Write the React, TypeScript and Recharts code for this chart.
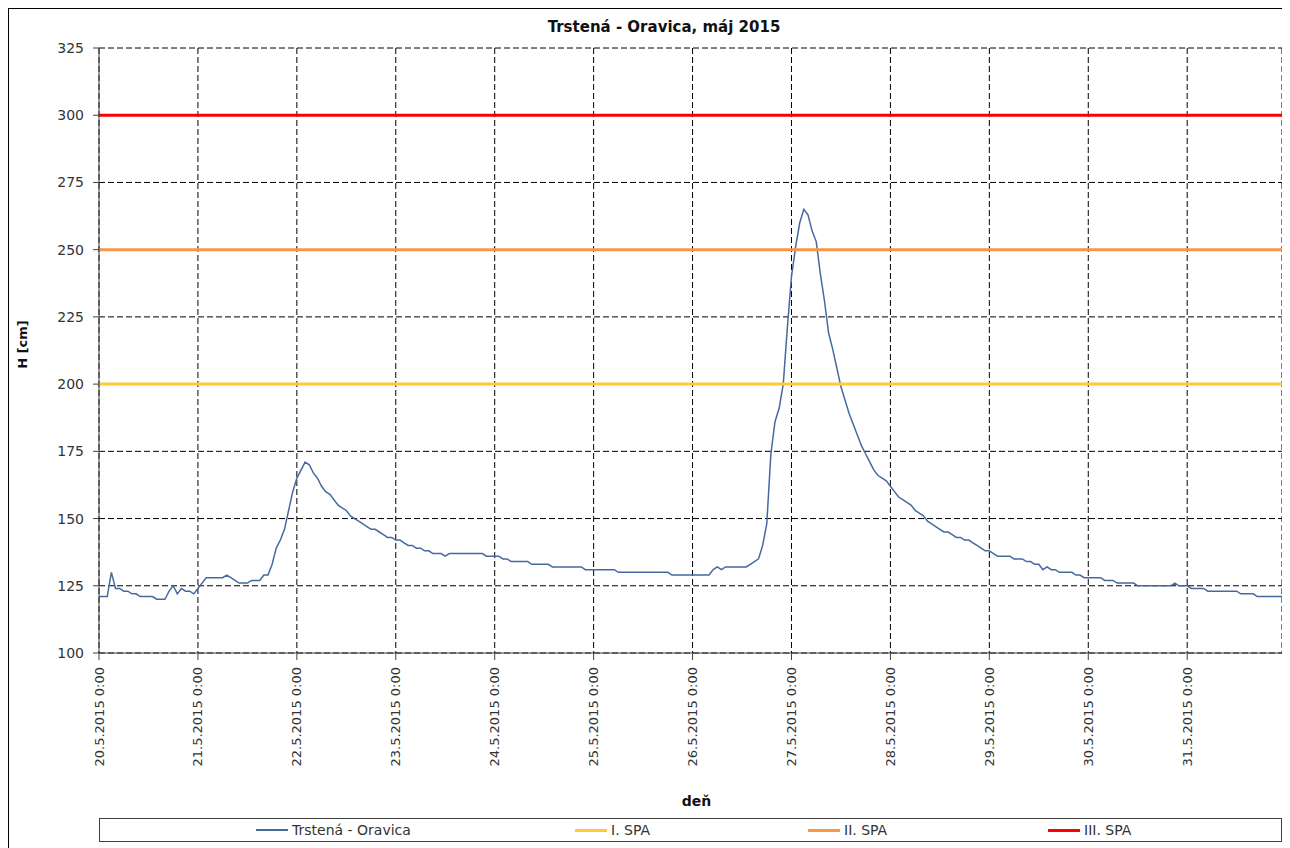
import { LineChart, Line, XAxis, YAxis, CartesianGrid, Legend } from "recharts";

// hourly water level H [cm], one array per day (0:00 .. 23:00)
const d20 = [121, 121, 121, 130, 124, 124, 123, 123, 122, 122, 121, 121, 121, 121, 120, 120, 120, 123, 125, 122, 124, 123, 123, 122];
const d21 = [124, 126, 128, 128, 128, 128, 128, 129, 128, 127, 126, 126, 126, 127, 127, 127, 129, 129, 133, 139, 142, 146, 153, 160];
const d22 = [165, 168, 171, 170, 167, 165, 162, 160, 159, 157, 155, 154, 153, 151, 150, 149, 148, 147, 146, 146, 145, 144, 143, 143];
const d23 = [142, 142, 141, 140, 140, 139, 139, 138, 138, 137, 137, 137, 136, 137, 137, 137, 137, 137, 137, 137, 137, 137, 136, 136];
const d24 = [136, 136, 135, 135, 134, 134, 134, 134, 134, 133, 133, 133, 133, 133, 132, 132, 132, 132, 132, 132, 132, 132, 131, 131];
const d25 = [131, 131, 131, 131, 131, 131, 130, 130, 130, 130, 130, 130, 130, 130, 130, 130, 130, 130, 130, 129, 129, 129, 129, 129];
const d26 = [129, 129, 129, 129, 129, 131, 132, 131, 132, 132, 132, 132, 132, 132, 133, 134, 135, 140, 148, 174, 186, 191, 200, 221];
const d27 = [240, 251, 260, 265, 263, 257, 253, 241, 231, 219, 213, 206, 199, 194, 189, 185, 181, 177, 174, 171, 168, 166, 165, 164];
const d28 = [162, 160, 158, 157, 156, 155, 153, 152, 151, 149, 148, 147, 146, 145, 145, 144, 143, 143, 142, 142, 141, 140, 139, 138];
const d29 = [138, 137, 136, 136, 136, 136, 135, 135, 135, 134, 134, 133, 133, 131, 132, 131, 131, 130, 130, 130, 130, 129, 129, 128];
const d30 = [128, 128, 128, 128, 127, 127, 127, 126, 126, 126, 126, 126, 125, 125, 125, 125, 125, 125, 125, 125, 125, 126, 125, 125];
const d31 = [125, 124, 124, 124, 124, 123, 123, 123, 123, 123, 123, 123, 123, 122, 122, 122, 122, 121, 121, 121, 121, 121, 121, 121];

const dayLabels = [
  "20.5.2015 0:00", "21.5.2015 0:00", "22.5.2015 0:00", "23.5.2015 0:00",
  "24.5.2015 0:00", "25.5.2015 0:00", "26.5.2015 0:00", "27.5.2015 0:00",
  "28.5.2015 0:00", "29.5.2015 0:00", "30.5.2015 0:00", "31.5.2015 0:00",
];
const spaLevels = [200, 250, 300];
const seriesNames = ["Trstená - Oravica", "I. SPA", "II. SPA", "III. SPA"];
const yTicks = [100, 125, 150, 175, 200, 225, 250, 275, 300, 325];

const levels = [d20, d21, d22, d23, d24, d25, d26, d27, d28, d29, d30, d31].flat();
const data = levels.map((h, t) => ({ t, h, spa1: spaLevels[0], spa2: spaLevels[1], spa3: spaLevels[2] }));
const dayTicks = dayLabels.map((_, i) => i * 24);
const lastHour = levels.length - 1;

const BLUE = "#466a9e";
const colors = [BLUE, "#ffcc33", "#f79646", "#ff0000"];
const widths = [1.5, 3, 3, 3];
const FONT = "'DejaVu Sans', sans-serif";

function DayTick({ x, y, payload }: any) {
  return (
    <text
      x={x}
      y={y}
      transform={`rotate(-90, ${x}, ${y})`}
      textAnchor="end"
      dy="0.35em"
      fontSize={13}
      fill="#333"
    >
      {dayLabels[Math.round(payload.value / 24)]}
    </text>
  );
}

function LegendBox() {
  const lefts = [156, 475, 708, 948];
  return (
    <div
      style={{
        position: "relative",
        boxSizing: "border-box",
        height: 24,
        border: "1px solid #404040",
        fontSize: 14,
        color: "#333",
      }}
    >
      {seriesNames.map((name, i) => (
        <div
          key={name}
          style={{ position: "absolute", left: lefts[i], top: 2, display: "flex", alignItems: "center", height: 18 }}
        >
          <div style={{ width: 32, height: widths[i] === 3 ? 3 : 2, background: colors[i], marginRight: 4 }} />
          <span>{name}</span>
        </div>
      ))}
    </div>
  );
}

export default function App() {
  return (
    <div
      style={{
        position: "relative",
        boxSizing: "border-box",
        width: 1282,
        height: 850,
        border: "1px solid #000",
        fontFamily: FONT,
      }}
    >
      <div
        style={{
          position: "absolute",
          left: 48,
          top: -29,
          fontFamily: "'Liberation Serif', serif",
          fontWeight: "bold",
          fontSize: 28,
          lineHeight: "28px",
          color: "#222",
        }}
      >
        Graf 6
      </div>
      <div
        style={{
          position: "absolute",
          left: 455,
          top: 9,
          width: 400,
          textAlign: "center",
          fontWeight: "bold",
          fontSize: 15,
          lineHeight: "18px",
          color: "#111",
        }}
      >
        Trstená - Oravica, máj 2015
      </div>
      <LineChart width={1280} height={839} data={data} margin={{ top: 39, right: 7, bottom: 6, left: 0 }}>
        <CartesianGrid stroke="#000" strokeDasharray="6 3" />
        <XAxis
          type="number"
          dataKey="t"
          domain={[0, lastHour]}
          ticks={dayTicks}
          interval={0}
          height={165}
          tickSize={7}
          tickMargin={7}
          tick={<DayTick />}
          stroke="#404040"
          label={({ viewBox }: any) => (
            <text x={viewBox.x + viewBox.width / 2 + 6} y={viewBox.y + 153} textAnchor="middle" fontSize={14} fontWeight="bold" fill="#111">
              deň
            </text>
          )}
        />
        <XAxis
          xAxisId="top"
          orientation="top"
          type="number"
          dataKey="t"
          domain={[0, lastHour]}
          height={0}
          tick={false}
          tickLine={false}
          stroke="#595959"
        />
        <YAxis
          domain={[100, 325]}
          ticks={yTicks}
          interval={0}
          width={90}
          tickSize={6}
          tickMargin={9}
          stroke="#404040"
          tick={{ fontSize: 14, fill: "#333" }}
          label={({ viewBox }: any) => {
            const cx = 13;
            const cy = viewBox.y + viewBox.height / 2 - 6;
            return (
              <text x={cx} y={cy} transform={`rotate(-90, ${cx}, ${cy})`} textAnchor="middle" dy="0.35em" fontSize={13} fontWeight="bold" fill="#111">
                H [cm]
              </text>
            );
          }}
        />
        <YAxis yAxisId="right" orientation="right" domain={[100, 325]} width={0} tick={false} tickLine={false} stroke="#595959" />
        <Legend verticalAlign="bottom" wrapperStyle={{ left: 90, width: 1183 }} content={() => <LegendBox />} />
        <Line type="linear" dataKey="h" name={seriesNames[0]} stroke={colors[0]} strokeWidth={widths[0]} dot={false} isAnimationActive={false} />
        <Line type="linear" dataKey="spa1" name={seriesNames[1]} stroke={colors[1]} strokeWidth={widths[1]} dot={false} isAnimationActive={false} />
        <Line type="linear" dataKey="spa2" name={seriesNames[2]} stroke={colors[2]} strokeWidth={widths[2]} dot={false} isAnimationActive={false} />
        <Line type="linear" dataKey="spa3" name={seriesNames[3]} stroke={colors[3]} strokeWidth={widths[3]} dot={false} isAnimationActive={false} />
      </LineChart>
    </div>
  );
}
